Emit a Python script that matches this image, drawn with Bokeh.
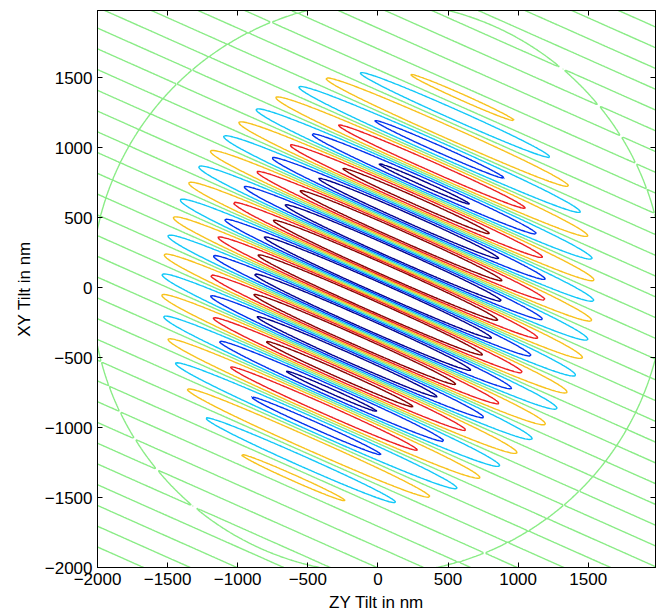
import numpy as np
from bokeh.plotting import figure
from bokeh.models import LinearAxis, FixedTicker, Range1d
from bokeh.embed import file_html
from bokeh.resources import INLINE

# ---- axes ----
x_range_nm = [-2000, 1980]
y_range_nm = [-2000, 1980]
tick_values = [-2000, -1500, -1000, -500, 0, 500, 1000, 1500]
tick_labels = ["\u22122000", "\u22121500", "\u22121000", "\u2212500", "0", "500", "1000", "1500"]
x_label = "ZY Tilt in nm"
y_label = "XY Tilt in nm"

# ---- contour levels and their (jet) colours ----
levels = [-0.55, -0.365, -0.18, 0.0, 0.18, 0.365, 0.55]
level_colors = ["#00008C", "#0033EE", "#12C8F8", "#8AEC86", "#F8C21C", "#EE2020", "#880000"]

# ---- fringe-field parameters ----
fringe_period_nm = 271
fringe_normal_deg = 66
dark_fringe_offset_nm = 0
envelope_sigma_nm = 1000
envelope_zero_radius_nm = 2043
grid_step_nm = 10

# ---- field on the grid ----
xs = np.arange(x_range_nm[0], x_range_nm[1] + 1, grid_step_nm, dtype=float)
ys = np.arange(y_range_nm[0], y_range_nm[1] + 1, grid_step_nm, dtype=float)
X, Y = np.meshgrid(xs, ys)
s2 = 2.0 * envelope_sigma_nm ** 2
A = np.exp(-(X ** 2 + Y ** 2) / s2) - np.exp(-envelope_zero_radius_nm ** 2 / s2)
th = np.deg2rad(fringe_normal_deg)
U = X * np.cos(th) + Y * np.sin(th)
Z = -A * np.cos(2 * np.pi * (U - dark_fringe_offset_nm) / fringe_period_nm)

FONT = "Liberation Sans"

p = figure(width=657, height=616, output_backend="svg", toolbar_location=None,
           x_range=Range1d(*x_range_nm), y_range=Range1d(*y_range_nm),
           min_border_left=97, min_border_right=2, min_border_top=10, min_border_bottom=49,
           background_fill_color="white", border_fill_color="white")
p.grid.visible = False
p.outline_line_color = "black"
p.outline_line_width = 1

p.contour(xs, ys, Z, levels, line_color=level_colors, line_width=1.4)

overrides = {v: t for v, t in zip(tick_values, tick_labels)}
for ax in (p.xaxis[0], p.yaxis[0]):
    ax.ticker = FixedTicker(ticks=tick_values)
    ax.major_label_overrides = overrides
    ax.major_tick_in = 5
    ax.major_tick_out = 0
    ax.minor_tick_line_color = None
    ax.axis_line_color = "black"
    ax.major_tick_line_color = "black"
    ax.major_label_text_font = FONT
    ax.major_label_text_font_size = "17px"
    ax.major_label_text_color = "black"
    ax.axis_label_text_font = FONT
    ax.axis_label_text_font_size = "17px"
    ax.axis_label_text_font_style = "normal"
    ax.axis_label_text_color = "black"
p.xaxis[0].axis_label = x_label
p.yaxis[0].axis_label = y_label
p.xaxis[0].major_label_standoff = 5
p.xaxis[0].axis_label_standoff = 5
p.yaxis[0].major_label_standoff = 5
p.yaxis[0].axis_label_standoff = 8

for side in ("above", "right"):
    ax = LinearAxis(ticker=FixedTicker(ticks=tick_values), major_tick_in=5, major_tick_out=0,
                    minor_tick_line_color=None, major_label_text_font_size="0px",
                    major_label_standoff=0, axis_line_color="black")
    ax.major_label_overrides = {v: "" for v in tick_values}
    p.add_layout(ax, side)

open("out.html", "w").write(file_html(p, INLINE))
